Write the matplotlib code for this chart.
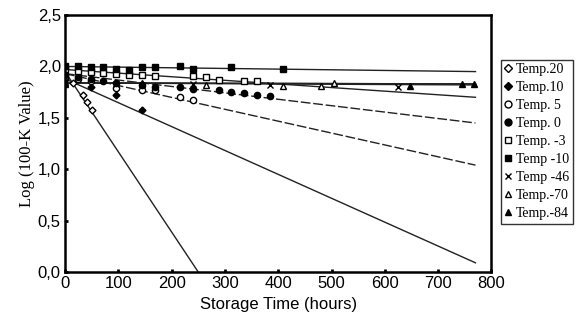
import matplotlib
matplotlib.use("Agg")
import matplotlib.pyplot as plt
from matplotlib.lines import Line2D
import numpy as np

# ---- data ----
labels = ["Temp.20", "Temp.10", "Temp. 5", "Temp. 0", "Temp. -3",
          "Temp -10", "Temp -46", "Temp.-70", "Temp.-84"]
markers = ["D", "D", "o", "o", "s", "s", "x", "^", "^"]
filled = [False, True, False, True, False, True, True, False, True]

t20_x = [0, 15, 34, 41, 51]
t20_y = [1.93, 1.84, 1.72, 1.65, 1.58]
t10_x = [0, 48, 96, 144]
t10_y = [1.88, 1.80, 1.72, 1.58]
t5_x = [0, 24, 48, 96, 144, 168, 216, 240]
t5_y = [1.90, 1.88, 1.86, 1.79, 1.77, 1.77, 1.70, 1.67]
t0_x = [0, 24, 48, 72, 96, 144, 168, 216, 240, 288, 312, 336, 360, 384]
t0_y = [1.92, 1.90, 1.88, 1.86, 1.84, 1.82, 1.80, 1.80, 1.78, 1.77, 1.75, 1.74, 1.72, 1.71]
tm3_x = [0, 24, 48, 72, 96, 120, 144, 168, 240, 264, 288, 336, 360]
tm3_y = [1.98, 1.96, 1.95, 1.94, 1.93, 1.92, 1.92, 1.91, 1.91, 1.90, 1.87, 1.86, 1.86]
tm10_x = [0, 24, 48, 72, 96, 120, 144, 168, 216, 240, 312, 408]
tm10_y = [2.00, 2.00, 1.99, 1.99, 1.98, 1.97, 1.99, 1.99, 2.00, 1.98, 1.99, 1.98]
tm46_x = [0, 96, 240, 384, 624]
tm46_y = [1.84, 1.83, 1.83, 1.82, 1.80]
tm70_x = [0, 144, 264, 408, 480, 504]
tm70_y = [1.85, 1.84, 1.82, 1.81, 1.81, 1.84]
tm84_x = [0, 144, 648, 744, 768]
tm84_y = [1.83, 1.83, 1.81, 1.83, 1.83]

# fitted lines: start value at t=0, end time, end value
fit_y0 = [1.95, 1.88, 1.93, 1.93, 1.97, 2.00, 1.84, 1.84, 1.84]
fit_t1 = [250, 770, 770, 770, 770, 770, 770, 770, 770]
fit_y1 = [0.0, 0.09, 1.04, 1.45, 1.70, 1.95, 1.82, 1.83, 1.83]
dashed = [False, False, True, True, False, False, False, False, False]

xs = [t20_x, t10_x, t5_x, t0_x, tm3_x, tm10_x, tm46_x, tm70_x, tm84_x]
ys = [t20_y, t10_y, t5_y, t0_y, tm3_y, tm10_y, tm46_y, tm70_y, tm84_y]

fig = plt.figure(figsize=(5.83, 3.27), dpi=100)
ax = fig.add_axes([0.1115, 0.168, 0.7315, 0.786])

for i in range(len(labels)):
    ls = (0, (7, 2)) if dashed[i] else "-"
    ax.plot([0, fit_t1[i]], [fit_y0[i], fit_y1[i]], color="#222222", lw=1.0, linestyle=ls)

for i in range(len(labels)):
    fc = "black" if filled[i] else "white"
    ms = 3.5 if markers[i] == "D" else 4.5
    ax.plot(xs[i], ys[i], linestyle="none", marker=markers[i], markersize=ms,
            markerfacecolor=fc, markeredgecolor="black", markeredgewidth=1.0)

ax.set_xlim(0, 800)
ax.set_ylim(0, 2.5)
ax.set_xticks([0, 100, 200, 300, 400, 500, 600, 700, 800])
ax.set_yticks([0, 0.5, 1.0, 1.5, 2.0, 2.5])
ax.set_yticklabels(["0,0", "0,5", "1,0", "1,5", "2,0", "2,5"])
ax.tick_params(direction="in", length=2, width=2, labelsize=12, pad=3)
for lab in ax.get_xticklabels() + ax.get_yticklabels():
    lab.set_family("Liberation Sans")
for sp in ax.spines.values():
    sp.set_linewidth(1.8)

ax.set_xlabel("Storage Time (hours)", fontsize=12, family="Liberation Sans", labelpad=4)
ax.set_ylabel("Log (100-K Value)", fontsize=12, family="Liberation Serif", labelpad=2)

handles = []
for i in range(len(labels)):
    fc = "black" if filled[i] else "white"
    handles.append(Line2D([], [], linestyle="none", marker=markers[i],
                          markersize=5 if markers[i] != "D" else 4,
                          markerfacecolor=fc, markeredgecolor="black"))
leg = fig.legend(handles, labels, loc="upper left", bbox_to_anchor=(0.859, 0.817),
                 prop={"family": "Liberation Serif", "size": 10},
                 frameon=True, fancybox=False, edgecolor="black",
                 handlelength=0.6, handletextpad=0.25, labelspacing=0.36,
                 borderpad=0.25, borderaxespad=0)
leg.get_frame().set_linewidth(1.0)

fig.savefig("out.png", dpi=100)
